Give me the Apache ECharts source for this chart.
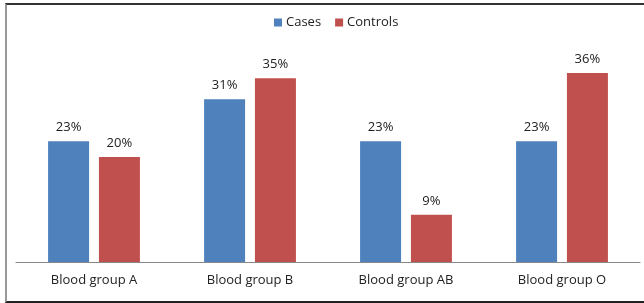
<!DOCTYPE html>
<html>
<head>
<meta charset="utf-8">
<script src="https://cdn.jsdelivr.net/npm/echarts@6/dist/echarts.min.js"></script>
<style>
    html, body { margin: 0; padding: 0; background: #fff; }
    #frame {
        position: absolute; left: 5px; top: 3px; width: 660px; height: 296px;
        border-top: 2px solid #333; border-left: 2px solid #999; border-bottom: 2px solid #222;
    }
    #chart { position: absolute; left: 0; top: 0; width: 644px; height: 303px; }
</style>
</head>
<body>
<div id="frame"></div>
<div id="chart"></div>
<script>
    // 数据
    const categories = ['Blood group A', 'Blood group B', 'Blood group AB', 'Blood group O'];
    const cases = [23, 31, 23, 23];
    const controls = [20, 35, 9, 36];

    const chart = echarts.init(document.getElementById('chart'));
    const labelStyle = {
        show: true,
        position: 'top',
        distance: 7,
        color: '#222',
        fontSize: 13,
        fontFamily: 'Open Sans',
        formatter: '{c}%'
    };
    chart.setOption({
        animation: false,
        legend: {
            top: 11,
            left: 269,
            itemWidth: 8,
            itemHeight: 8,
            itemGap: 14,
            icon: 'rect',
            textStyle: { fontSize: 13, color: '#222', fontFamily: 'Open Sans', padding: [0, 0, 0, -1] },
            data: ['Cases', 'Controls']
        },
        grid: { left: 16, right: 4, top: 52, bottom: 41 },
        xAxis: {
            type: 'category',
            data: categories,
            axisLine: { lineStyle: { color: '#888', width: 1 } },
            axisTick: { show: false },
            axisLabel: { color: '#222', fontSize: 13, fontFamily: 'Open Sans', margin: 12 }
        },
        yAxis: {
            type: 'value',
            min: 0,
            max: 40,
            show: false,
            splitLine: { show: false }
        },
        series: [
            {
                name: 'Cases',
                type: 'bar',
                data: cases,
                barWidth: 41,
                barGap: '24%',
                itemStyle: { color: '#4F81BD' },
                label: labelStyle
            },
            {
                name: 'Controls',
                type: 'bar',
                data: controls,
                barWidth: 41,
                itemStyle: { color: '#C0504D' },
                label: labelStyle
            }
        ]
    });
</script>
</body>
</html>
